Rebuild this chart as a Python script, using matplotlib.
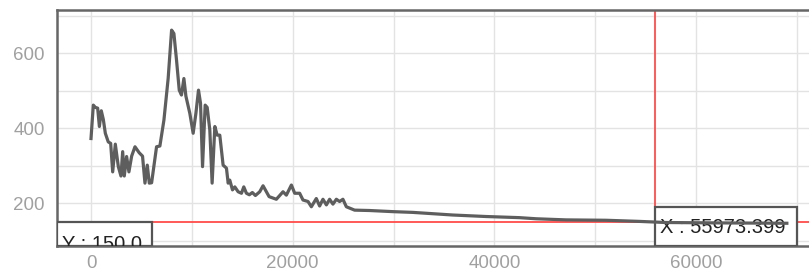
import matplotlib
matplotlib.use('Agg')
import matplotlib.pyplot as plt
from matplotlib.patches import Rectangle
from matplotlib.ticker import MultipleLocator

# series
x_vals = [0, 230, 430, 660, 830, 1020, 1220, 1420, 1710, 1950, 2150, 2410, 2710, 2970,
          3140, 3300, 3530, 3760, 4030, 4360, 4780, 5110, 5350, 5580, 5780, 6010, 6500,
          6830, 7230, 7650, 7990, 8220, 8480, 8750, 8970, 9210, 9410, 9800, 10130, 10400,
          10660, 10860, 11060, 11320, 11520, 11780, 12010, 12280, 12510, 12770, 13100,
          13430, 13600, 13760, 14030, 14260, 14590, 14920, 15150, 15410, 15700, 16000,
          16300, 16730, 17060, 17660, 18380, 19040, 19370, 19870, 20200, 20690, 21020,
          21520, 21850, 22340, 22670, 23000, 23340, 23660, 23990, 24330, 24650, 24980,
          25320, 26140, 27620, 29930, 31910, 35870, 39170, 42470, 44130, 47100, 51060,
          54360, 57000, 62000, 69000]
y_vals = [372, 461, 455, 453, 404, 446, 423, 386, 363, 359, 283, 357, 297, 272,
          337, 272, 324, 283, 325, 350, 334, 325, 253, 301, 253, 254, 350,
          352, 421, 532, 661, 652, 581, 501, 488, 532, 485, 439, 386, 439,
          501, 466, 297, 461, 455, 395, 253, 404, 381, 381, 301,
          293, 253, 261, 235, 243, 230, 226, 243, 226, 222, 228,
          220, 230, 246, 217, 210, 230, 221, 248, 226, 226, 208,
          204, 190, 212, 192, 210, 195, 210, 197, 210, 204, 210,
          190, 181, 180, 177, 175, 168, 164, 161, 158, 155, 154,
          151, 148, 147, 146]

cursor_x = 55973.399
cursor_y = 150.0
x_ticks = [0, 20000, 40000, 60000]
y_ticks = [200, 400, 600]

plt.rcParams['font.family'] = ['Liberation Sans', 'DejaVu Sans']

fig = plt.figure(figsize=(8.09, 2.71), dpi=100)
ax = fig.add_axes([57 / 809, 25.5 / 271, 760 / 809, 235.5 / 271])

ax.set_xlim(-3372, 71990)
ax.set_ylim(86.7, 714.7)

ax.set_xticks(x_ticks)
ax.set_yticks(y_ticks)
ax.xaxis.set_minor_locator(MultipleLocator(10000))
ax.yaxis.set_minor_locator(MultipleLocator(100))
ax.grid(True, which='both', color='#e3e3e3', linewidth=1.0, zorder=0)
ax.set_axisbelow(True)
ax.tick_params(which='both', length=0, labelsize=13.5, labelcolor='#a0a0a0')
ax.tick_params(axis='x', pad=7)
ax.tick_params(axis='y', pad=9)

for side in ['left', 'top', 'bottom']:
    ax.spines[side].set_color('#666666')
    ax.spines[side].set_linewidth(1.8)
ax.spines['right'].set_visible(False)

# crosshair
ax.axhline(cursor_y, color='#ff4b4b', linewidth=1.3, zorder=2)
ax.axvline(cursor_x, color='#ff4b4b', linewidth=1.3, zorder=2)

# value boxes
ax.add_patch(Rectangle((-3372, 86.7), 9420, cursor_y - 86.7, facecolor='white',
                       edgecolor='#555555', linewidth=1.6, zorder=3))
ax.text(-2876, 74.7, f'Y : {cursor_y:.1f}', fontsize=14.5, color='#222222',
        va='baseline', ha='left', zorder=4, clip_on=True)
ax.add_patch(Rectangle((cursor_x, 86.7), 70018 - cursor_x, 190 - 86.7, facecolor='white',
                       edgecolor='#555555', linewidth=1.6, zorder=3))
ax.text(56431, 119, f'X : {cursor_x:.3f}', fontsize=14.5, color='#222222',
        va='baseline', ha='left', zorder=4)

ax.plot(x_vals, y_vals, color='#5e5e5e', linewidth=2.3, zorder=5,
        solid_joinstyle='round')

fig.savefig('out.png', dpi=100)
